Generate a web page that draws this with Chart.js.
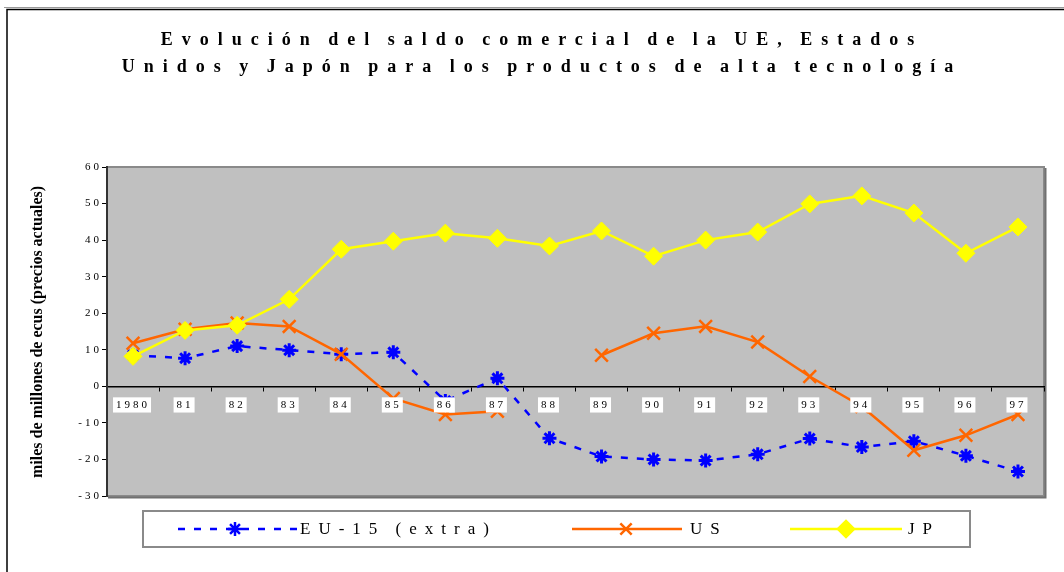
<!DOCTYPE html>
<html>
<head>
<meta charset="utf-8">
<script src="https://cdn.jsdelivr.net/npm/chart.js@4.4.1/dist/chart.umd.min.js"></script>
<style>
  html, body { margin: 0; padding: 0; background: #fff; }
  canvas { display: block; }
</style>
</head>
<body>
<canvas id="saldo" width="1064" height="572"></canvas>
<script>
const years = ['1980','81','82','83','84','85','86','87','88','89','90','91','92','93','94','95','96','97'];
const euValues = [8.5, 7.7, 11.0, 9.9, 8.8, 9.3, -4.0, 2.2, -14.2, -19.2, -20.0, -20.3, -18.6, -14.3, -16.6, -15.0, -19.0, -23.3];
const usValues = [11.8, 15.6, 17.3, 16.4, 8.8, -3.3, -7.7, -6.8, null, 8.5, 14.5, 16.4, 12.1, 2.7, -5.5, -17.5, -13.4, -7.7];
const jpValues = [8.2, 15.3, 16.7, 23.8, 37.5, 39.7, 41.9, 40.5, 38.4, 42.5, 35.6, 40.0, 42.2, 49.9, 52.1, 47.4, 36.4, 43.6];
const titleLines = ['Evolución del saldo comercial de la UE, Estados', 'Unidos y Japón para los productos de alta tecnología'];
const yTitle = 'miles de millones de ecus (precios actuales)';
const seriesNames = ['EU-15 (extra)', 'US', 'JP'];

const serif = '"Liberation Serif", "Times New Roman", serif';
const blue = '#0000ff', orange = '#ff6600', yellow = '#ffff00';

// letter spaced tick labels, like the original
const spacing = {
    id: 'spacing',
    beforeUpdate(chart) { chart.ctx.letterSpacing = '3px'; },
    beforeDraw(chart) { chart.ctx.letterSpacing = '3px'; }
};

// grey plot area, painted before the scales so ticks stay visible
const plotBox = {
    id: 'plotBox',
    beforeDraw(chart) {
        const { ctx, chartArea: {left, top, width, height} } = chart;
        ctx.save();
        ctx.fillStyle = '#c0c0c0';
        ctx.fillRect(left, top, width, height);
        ctx.strokeStyle = '#8a8a8a';
        ctx.lineWidth = 2;
        ctx.strokeRect(left, top, width, height);
        ctx.strokeStyle = '#707070';
        ctx.beginPath();
        ctx.moveTo(left + width + 1.5, top + 1);
        ctx.lineTo(left + width + 1.5, top + height + 1.5);
        ctx.lineTo(left + 1, top + height + 1.5);
        ctx.stroke();
        ctx.restore();
    }
};

function marker(ctx, style, radius, x, y) {
    Chart.helpers.drawPoint(ctx, {
        pointStyle: style, radius: radius, rotation: 0,
        borderWidth: 2.5
    }, x, y);
}

const extras = {
    id: 'extras',
    afterDraw(chart) {
        const ctx = chart.ctx;
        ctx.save();
        // outer frame
        ctx.strokeStyle = '#999';
        ctx.lineWidth = 1;
        ctx.beginPath(); ctx.moveTo(4, 7.5); ctx.lineTo(1064, 7.5); ctx.stroke();
        ctx.strokeStyle = '#000';
        ctx.lineWidth = 1.5;
        ctx.beginPath(); ctx.moveTo(7, 572); ctx.lineTo(7, 9.5); ctx.lineTo(1064, 9.5); ctx.stroke();

        // title
        ctx.fillStyle = '#000';
        ctx.textAlign = 'center';
        ctx.textBaseline = 'middle';
        ctx.font = 'bold 18px ' + serif;
        ctx.letterSpacing = '9px';
        ctx.wordSpacing = '-4px';
        ctx.fillText(titleLines[0], 542, 40);
        ctx.fillText(titleLines[1], 542, 67);

        // y title
        ctx.letterSpacing = '0px';
        ctx.wordSpacing = '0px';
        ctx.font = 'bold 16px ' + serif;
        ctx.translate(38, 332);
        ctx.rotate(-Math.PI / 2);
        ctx.fillText(yTitle, 0, 0);
        ctx.setTransform(1, 0, 0, 1, 0, 0);

        // legend
        const ly = 529;
        ctx.strokeStyle = '#8a8a8a';
        ctx.lineWidth = 2;
        ctx.strokeRect(143, 511, 827, 36);
        ctx.lineWidth = 2.5;
        ctx.strokeStyle = blue;
        ctx.setLineDash([7, 9]);
        ctx.beginPath(); ctx.moveTo(178, ly); ctx.lineTo(298, ly); ctx.stroke();
        ctx.setLineDash([]);
        ctx.strokeStyle = orange;
        ctx.beginPath(); ctx.moveTo(572, ly); ctx.lineTo(682, ly); ctx.stroke();
        ctx.strokeStyle = yellow;
        ctx.beginPath(); ctx.moveTo(790, ly); ctx.lineTo(902, ly); ctx.stroke();

        ctx.strokeStyle = blue; ctx.fillStyle = blue;
        marker(ctx, 'star', 7, 235, ly);
        ctx.strokeStyle = orange; ctx.fillStyle = orange;
        marker(ctx, 'crossRot', 8, 626, ly);
        ctx.strokeStyle = yellow; ctx.fillStyle = yellow;
        marker(ctx, 'rectRot', 8, 846, ly);

        ctx.fillStyle = '#000';
        ctx.textAlign = 'left';
        ctx.font = '17px ' + serif;
        ctx.letterSpacing = '8px';
        ctx.wordSpacing = '-2px';
        ctx.fillText(seriesNames[0], 300, ly + 1);
        ctx.fillText(seriesNames[1], 690, ly + 1);
        ctx.fillText(seriesNames[2], 908, ly + 1);
        ctx.restore();
    }
};

new Chart(document.getElementById('saldo'), {
    type: 'line',
    data: {
        labels: years,
        datasets: [{
            label: seriesNames[0],
            data: euValues,
            borderColor: blue,
            backgroundColor: blue,
            borderWidth: 2.5,
            borderDash: [7, 9],
            pointStyle: 'star',
            pointRadius: 7,
            pointBorderWidth: 3,
            order: 2
        }, {
            label: seriesNames[1],
            data: usValues,
            borderColor: orange,
            backgroundColor: orange,
            borderWidth: 2.5,
            pointStyle: 'crossRot',
            pointRadius: 9,
            pointBorderWidth: 2.5,
            spanGaps: false,
            order: 1
        }, {
            label: seriesNames[2],
            data: jpValues,
            borderColor: yellow,
            backgroundColor: yellow,
            borderWidth: 2.5,
            pointStyle: 'rectRot',
            pointRadius: 9,
            pointBorderWidth: 1,
            order: 0
        }]
    },
    options: {
        responsive: false,
        animation: false,
        layout: { padding: { top: 167, bottom: 76, left: 0, right: 20 } },
        plugins: {
            legend: { display: false },
            title: { display: false },
            tooltip: { enabled: false }
        },
        scales: {
            x: {
                position: { y: 0 },
                offset: true,
                grid: { drawOnChartArea: false, drawTicks: true, tickLength: 4, color: '#000', offset: true },
                border: { display: true, color: '#000', width: 1.5 },
                ticks: {
                    z: 1,
                    padding: 8,
                    color: '#000',
                    font: { family: serif, size: 11 },
                    maxRotation: 0,
                    autoSkip: false,
                    showLabelBackdrop: true,
                    backdropColor: '#fff',
                    backdropPadding: { top: 1, bottom: 1, left: 3, right: 1 }
                }
            },
            y: {
                min: -30,
                max: 60,
                afterFit(scale) { scale.width = 107; },
                grid: { drawOnChartArea: false, drawTicks: true, tickLength: 5, color: '#000' },
                border: { display: true, color: '#333', width: 2 },
                ticks: {
                    stepSize: 10,
                    padding: 0,
                    color: '#000',
                    font: { family: serif, size: 11 }
                }
            }
        }
    },
    plugins: [spacing, plotBox, extras]
});
</script>
</body>
</html>
